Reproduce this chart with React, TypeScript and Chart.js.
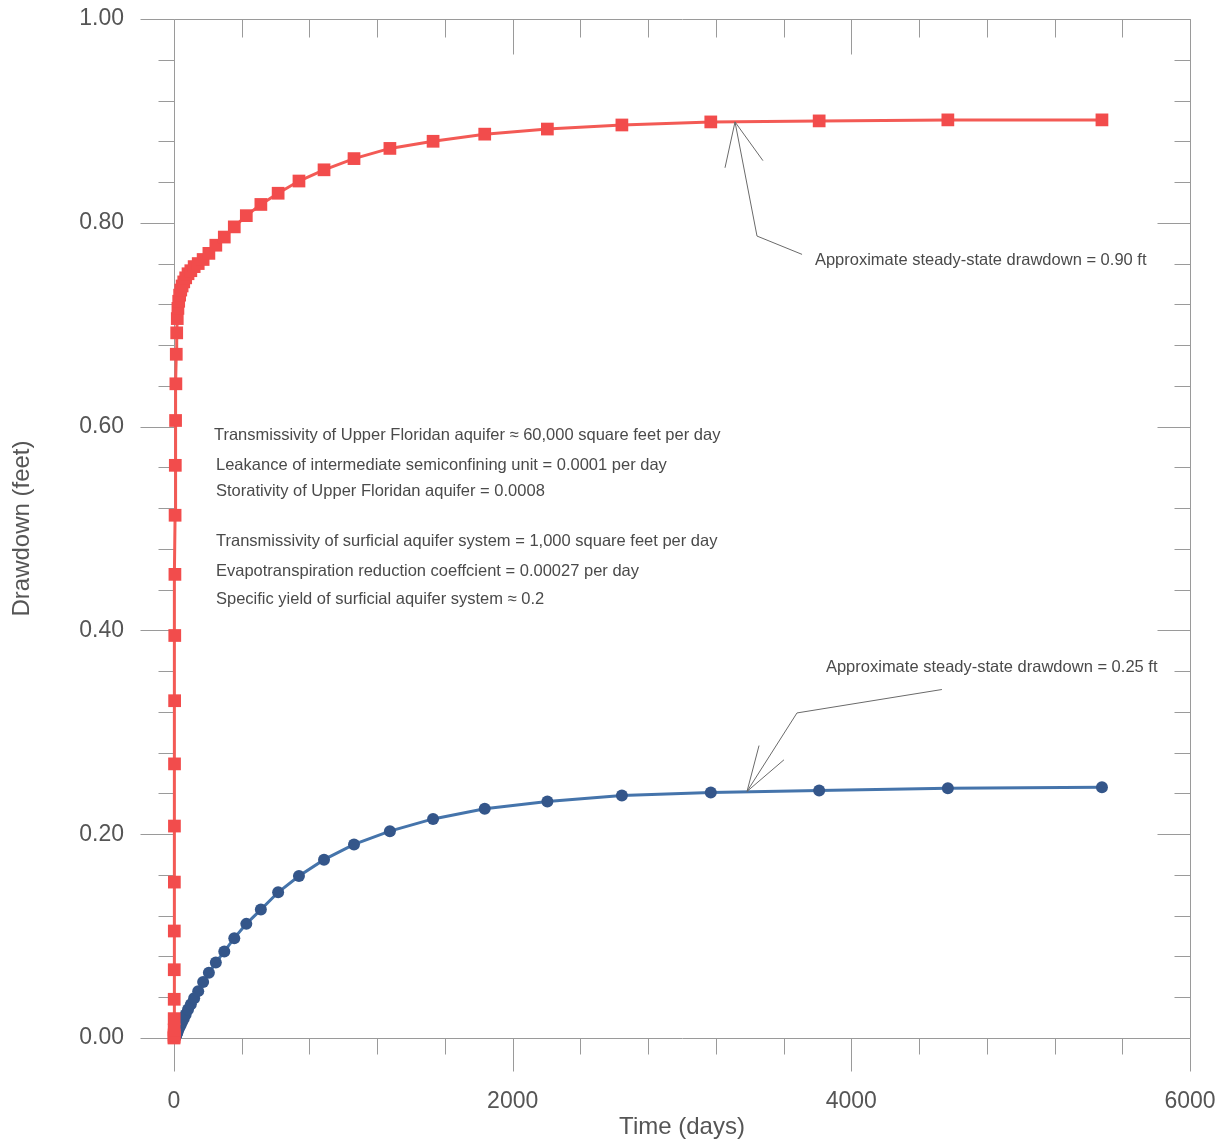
import React, { useEffect, useRef } from 'react';
import { Chart, registerables } from 'chart.js';

Chart.register(...registerables);

// ---------- data ----------
const timeDays = [
  0.1, 0.6, 0.72, 0.86, 1.04, 1.24, 1.5, 1.8, 2.15, 2.6, 3.1, 3.7, 4.5, 5.4, 6.4, 7.7, 9.3, 11.1, 13.4, 16.0,
  19.3, 23.1, 27.7, 33.3, 39.9, 47.9, 57.5, 69.0, 82.8, 99.4, 119, 143, 172, 206, 247, 297, 356, 427, 513, 615,
  738, 886, 1063, 1275, 1530, 1835, 2205, 2645, 3170, 3810, 4570, 5480,
];

const upperFloridanDrawdown = [
  0.0, 0.001, 0.003, 0.008, 0.019, 0.038, 0.067, 0.105, 0.153, 0.208, 0.269, 0.331, 0.395, 0.455, 0.513, 0.562,
  0.606, 0.642, 0.671, 0.692, 0.706, 0.716, 0.723, 0.729, 0.734, 0.738, 0.742, 0.746, 0.75, 0.753, 0.757, 0.76,
  0.764, 0.77, 0.778, 0.786, 0.796, 0.807, 0.818, 0.829, 0.841, 0.852, 0.863, 0.873, 0.88, 0.887, 0.892, 0.896,
  0.899, 0.9, 0.901, 0.901,
];

const surficialDrawdown = [
  0.0, 0.0, 0.0, 0.0, 0.0, 0.0, 0.0, 0.0, 0.0, 0.0, 0.0, 0.0, 0.001, 0.001, 0.001, 0.001, 0.002, 0.002, 0.003,
  0.004, 0.005, 0.007, 0.009, 0.011, 0.013, 0.016, 0.019, 0.023, 0.028, 0.033, 0.039, 0.046, 0.055, 0.064, 0.074,
  0.085, 0.098, 0.112, 0.126, 0.143, 0.159, 0.175, 0.19, 0.203, 0.215, 0.225, 0.232, 0.238, 0.241, 0.243, 0.245,
  0.246,
];

const xTickLabels = [0, 2000, 4000, 6000];
const xMinorTicks = [0, 400, 800, 1200, 1600, 2000, 2400, 2800, 3200, 3600, 4000, 4400, 4800, 5200, 5600, 6000];
const yTickLabels = [0, 0.2, 0.4, 0.6, 0.8, 1.0];
const yMinorTicks = [
  0, 0.04, 0.08, 0.12, 0.16, 0.2, 0.24, 0.28, 0.32, 0.36, 0.4, 0.44, 0.48, 0.52, 0.56, 0.6, 0.64, 0.68, 0.72,
  0.76, 0.8, 0.84, 0.88, 0.92, 0.96, 1.0,
];

const parameterNotes = [
  'Transmissivity of Upper Floridan aquifer \u2248 60,000 square feet per day',
  'Leakance of intermediate semiconfining unit = 0.0001 per day',
  'Storativity of Upper Floridan aquifer = 0.0008',
  'Transmissivity of surficial aquifer system = 1,000 square feet per day',
  'Evapotranspiration reduction coeffcient = 0.00027 per day',
  'Specific yield of surficial aquifer system \u2248 0.2',
];
// anchor of each note, in data units [time, drawdown]
const parameterNoteAnchors = [
  [236, 0.591],
  [248, 0.562],
  [248, 0.536],
  [248, 0.487],
  [248, 0.458],
  [248, 0.43],
];

const steadyLabels = [
  'Approximate steady-state drawdown = 0.90 ft',
  'Approximate steady-state drawdown = 0.25 ft',
];
const steadyLabelAnchors = [
  [3785, 0.763],
  [3850, 0.364],
];
// leader lines (data units)
const steadyLeaders = [
  [
    [[3709, 0.769], [3443, 0.787], [3313, 0.899]],
    [[3254, 0.854], [3313, 0.899], [3478, 0.861]],
  ],
  [
    [[4535, 0.342], [3679, 0.319], [3384, 0.242]],
    [[3455, 0.287], [3384, 0.242], [3602, 0.273]],
  ],
];

const FONT = '"Liberation Sans", Arial, Helvetica, sans-serif';
const AXIS_GREY = '#9a9a9a';
const TEXT_GREY = '#555555';

const framePlugin = {
  id: 'frameTicks',
  beforeDatasetsDraw(chart: any) {
    const { ctx, chartArea, scales } = chart;
    const { left, right, top, bottom } = chartArea;
    const x = scales.x;
    const y = scales.y;
    const s = (v: number) => Math.round(v) + 0.5;
    ctx.save();
    ctx.strokeStyle = AXIS_GREY;
    ctx.lineWidth = 1;
    ctx.beginPath();
    ctx.rect(s(left), s(top), Math.round(right) - Math.round(left), Math.round(bottom) - Math.round(top));
    xMinorTicks.forEach((t) => {
      const px = s(x.getPixelForValue(t));
      const major = xTickLabels.includes(t);
      ctx.moveTo(px, s(bottom));
      ctx.lineTo(px, s(bottom) + (major ? 33 : 16));
      ctx.moveTo(px, s(top));
      ctx.lineTo(px, s(top) + (major ? 35 : 18));
    });
    yMinorTicks.forEach((v, i) => {
      const py = s(y.getPixelForValue(v));
      const major = i % 5 === 0;
      ctx.moveTo(s(left) - (major ? 34 : 16), py);
      ctx.lineTo(s(left), py);
      ctx.moveTo(s(right) - (major ? 33 : 16), py);
      ctx.lineTo(s(right), py);
    });
    ctx.stroke();
    ctx.restore();
  },
  afterDraw(chart: any) {
    const { ctx, scales } = chart;
    const x = scales.x;
    const y = scales.y;
    ctx.save();
    ctx.fillStyle = '#4a4a4a';
    ctx.textBaseline = 'middle';
    ctx.textAlign = 'left';
    ctx.font = `16.5px ${FONT}`;
    parameterNotes.forEach((txt, i) => {
      const [t, v] = parameterNoteAnchors[i];
      ctx.fillText(txt, x.getPixelForValue(t), y.getPixelForValue(v));
    });
    steadyLabels.forEach((txt, i) => {
      const [t, v] = steadyLabelAnchors[i];
      ctx.fillText(txt, x.getPixelForValue(t), y.getPixelForValue(v));
    });
    ctx.strokeStyle = '#6a6a6a';
    ctx.lineWidth = 1;
    steadyLeaders.forEach((group) => {
      group.forEach((poly) => {
        ctx.beginPath();
        poly.forEach(([t, v], k) => {
          const px = x.getPixelForValue(t);
          const py = y.getPixelForValue(v);
          if (k === 0) ctx.moveTo(px, py);
          else ctx.lineTo(px, py);
        });
        ctx.stroke();
      });
    });
    ctx.restore();
  },
};

export default function App() {
  const canvasRef = useRef<HTMLCanvasElement>(null);

  useEffect(() => {
    if (!canvasRef.current) return;
    const chart = new Chart(canvasRef.current, {
      type: 'line',
      data: {
        datasets: [
          {
            label: 'Upper Floridan aquifer',
            data: timeDays.map((t, i) => ({ x: t, y: upperFloridanDrawdown[i] })),
            borderColor: '#f35a55',
            backgroundColor: '#f24c4c',
            pointBackgroundColor: '#f24c4c',
            pointBorderColor: '#f24c4c',
            pointStyle: 'rect',
            pointRadius: 9,
            pointBorderWidth: 0,
            borderWidth: 3,
            tension: 0,
            clip: false,
          },
          {
            label: 'Surficial aquifer system',
            data: timeDays.map((t, i) => ({ x: t, y: surficialDrawdown[i] })),
            borderColor: '#4574ab',
            backgroundColor: '#34568a',
            pointBackgroundColor: '#34568a',
            pointBorderColor: '#34568a',
            pointStyle: 'circle',
            pointRadius: 6,
            pointBorderWidth: 0,
            borderWidth: 3,
            tension: 0,
            clip: false,
          },
        ],
      },
      options: {
        responsive: false,
        animation: false,
        events: [],
        layout: { padding: { top: 19, right: 32, bottom: 0, left: 0 } },
        plugins: {
          legend: { display: false },
          tooltip: { enabled: false },
        },
        scales: {
          x: {
            type: 'linear',
            min: 0,
            max: 6000,
            afterFit: (scale: any) => {
              scale.height = 107;
            },
            grid: {
              display: true,
              drawOnChartArea: false,
              drawTicks: true,
              tickLength: 46,
              tickColor: 'rgba(0,0,0,0)',
            },
            border: { display: false },
            ticks: {
              stepSize: 2000,
              autoSkip: false,
              maxRotation: 0,
              padding: 4,
              color: TEXT_GREY,
              font: { family: FONT, size: 23 },
              callback: (v: any) => (xTickLabels.includes(Number(v)) ? String(v) : ''),
            },
            title: {
              display: true,
              text: 'Time (days)',
              color: TEXT_GREY,
              font: { family: FONT, size: 24 },
              padding: { top: 0, bottom: 3 },
            },
          },
          y: {
            type: 'linear',
            min: 0,
            max: 1,
            afterFit: (scale: any) => {
              scale.width = 174;
            },
            grid: {
              display: true,
              drawOnChartArea: false,
              drawTicks: true,
              tickLength: 46,
              tickColor: 'rgba(0,0,0,0)',
            },
            border: { display: false },
            ticks: {
              stepSize: 0.2,
              autoSkip: false,
              padding: 4,
              color: TEXT_GREY,
              font: { family: FONT, size: 23 },
              callback: (v: any) => {
                const n = Number(v);
                return yTickLabels.some((t) => Math.abs(t - n) < 1e-9) ? n.toFixed(2) : '';
              },
            },
            title: {
              display: true,
              text: 'Drawdown (feet)',
              color: TEXT_GREY,
              font: { family: FONT, size: 24 },
              padding: { top: 8, bottom: 0 },
            },
          },
        },
      },
      plugins: [framePlugin],
    });
    return () => chart.destroy();
  }, []);

  return (
    <div style={{ position: 'fixed', left: 0, top: 0, width: 1222, height: 1145, background: '#ffffff' }}>
      <canvas ref={canvasRef} width={1222} height={1145} style={{ display: 'block', width: 1222, height: 1145 }} />
    </div>
  );
}
